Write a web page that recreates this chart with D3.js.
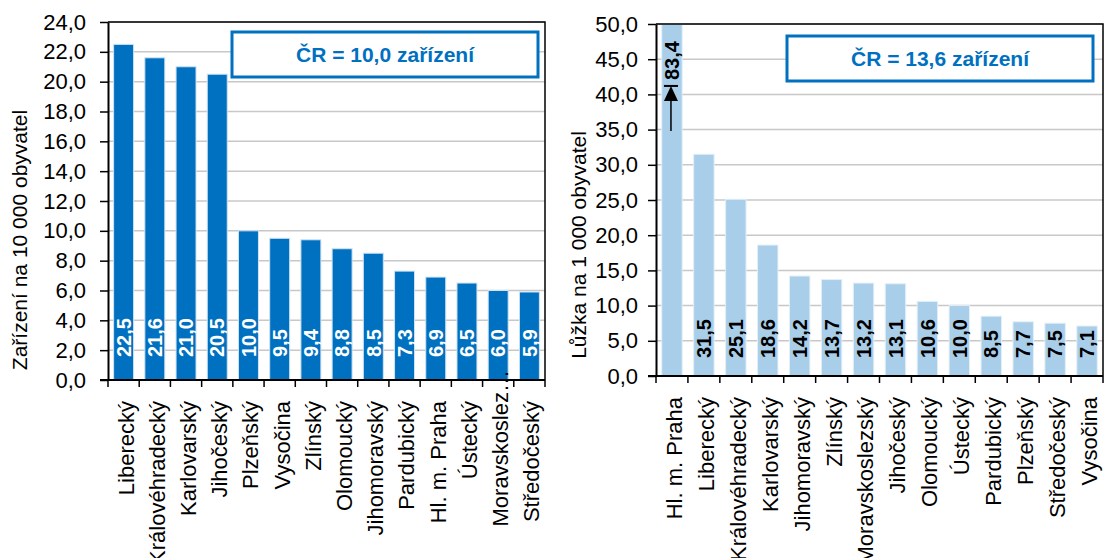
<!DOCTYPE html>
<html>
<head>
<meta charset="utf-8">
<script src="https://cdn.jsdelivr.net/npm/d3@7"></script>
<style>
  body { margin: 0; background: #fff; }
  svg { display: block; font-family: "Liberation Sans", Arial, sans-serif; }
</style>
</head>
<body>
<svg></svg>
<script>
// left chart: zařízení na 10 000 obyvatel
let leftCategories = ['Liberecký', 'Královéhradecký', 'Karlovarský', 'Jihočeský', 'Plzeňský', 'Vysočina', 'Zlínský',
    'Olomoucký', 'Jihomoravský', 'Pardubický', 'Hl. m. Praha', 'Ústecký', 'Moravskoslez…', 'Středočeský'];
let leftValues = [22.5, 21.6, 21.0, 20.5, 10.0, 9.5, 9.4, 8.8, 8.5, 7.3, 6.9, 6.5, 6.0, 5.9];
let leftTicks = [0, 2, 4, 6, 8, 10, 12, 14, 16, 18, 20, 22, 24];

// right chart: lůžka na 1 000 obyvatel
let rightCategories = ['Hl. m. Praha', 'Liberecký', 'Královéhradecký', 'Karlovarský', 'Jihomoravský', 'Zlínský',
    'Moravskoslezský', 'Jihočeský', 'Olomoucký', 'Ústecký', 'Pardubický', 'Plzeňský', 'Středočeský', 'Vysočina'];
let rightValues = [83.4, 31.5, 25.1, 18.6, 14.2, 13.7, 13.2, 13.1, 10.6, 10.0, 8.5, 7.7, 7.5, 7.1];
let rightTicks = [0, 5, 10, 15, 20, 25, 30, 35, 40, 45, 50];

let fmt = v => d3.format('.1f')(v).replace('.', ',');

let svg = d3.select('svg')
    .attr('width', 1105)
    .attr('height', 558);

// draws one bar chart into a group
function drawChart(opts) {
    let g = svg.append('g');
    let x = d3.scaleBand()
        .domain(opts.categories)
        .range([opts.left, opts.right])
        .paddingInner(0.36)
        .paddingOuter(0.18);
    let y = d3.scaleLinear()
        .domain([0, opts.max])
        .range([opts.bottom, opts.top]);

    // gridlines
    g.selectAll('line.grid')
        .data(opts.ticks.slice(1))
        .enter()
        .append('line')
        .attr('x1', opts.left)
        .attr('x2', opts.right)
        .attr('y1', d => y(d))
        .attr('y2', d => y(d))
        .style('stroke', '#c8c8c8')
        .style('stroke-width', 1.5);

    // bars (capped at the axis max)
    g.selectAll('rect.bar')
        .data(opts.values)
        .enter()
        .append('rect')
        .attr('x', (d, i) => x(opts.categories[i]))
        .attr('width', x.bandwidth())
        .attr('y', d => y(Math.min(d, opts.max)))
        .attr('height', d => opts.bottom - y(Math.min(d, opts.max)))
        .style('fill', opts.color)
        .style('stroke', opts.edge)
        .style('stroke-width', 1);

    // value labels inside the bars
    g.selectAll('text.value')
        .data(opts.values)
        .enter()
        .append('text')
        .attr('transform', (d, i) => {
            let cx = x(opts.categories[i]) + x.bandwidth() / 2;
            let yy = d > opts.max ? opts.overflowY : opts.bottom - opts.labelLift;
            return `translate(${cx},${yy}) rotate(-90)`;
        })
        .attr('dy', '0.36em')
        .style('font-size', '20px')
        .style('font-weight', 'bold')
        .style('fill', opts.labelColor)
        .text(d => fmt(d));

    // plot border (top + right)
    g.append('path')
        .attr('d', `M${opts.left},${opts.top}H${opts.right}V${opts.bottom}`)
        .style('fill', 'none')
        .style('stroke', '#000')
        .style('stroke-width', 1.5);

    // y axis
    let yAxis = g.append('g')
        .attr('transform', `translate(${opts.left},0)`)
        .call(d3.axisLeft(y).tickValues(opts.ticks).tickFormat(fmt).tickSize(8).tickPadding(opts.tickPad).tickSizeOuter(0));
    yAxis.select('.domain').style('stroke-width', 2);
    yAxis.selectAll('.tick line').style('stroke-width', 1.5);
    yAxis.selectAll('text').style('font-size', '22px').style('fill', '#000').attr('font-family', null);

    // x axis line and ticks at band boundaries
    g.append('line')
        .attr('x1', opts.left - 8)
        .attr('x2', opts.right)
        .attr('y1', opts.bottom)
        .attr('y2', opts.bottom)
        .style('stroke', '#000')
        .style('stroke-width', 2);
    g.selectAll('line.xtick')
        .data(d3.range(opts.categories.length + 1))
        .enter()
        .append('line')
        .attr('x1', i => opts.left + i * x.step())
        .attr('x2', i => opts.left + i * x.step())
        .attr('y1', opts.bottom)
        .attr('y2', opts.bottom + 7)
        .style('stroke', '#000')
        .style('stroke-width', 1.5);

    // category labels
    g.selectAll('text.cat')
        .data(opts.categories)
        .enter()
        .append('text')
        .attr('transform', d => {
            let cx = x(d) + x.bandwidth() / 2 + 2;
            let yy = d.endsWith('…') ? opts.bottom - 10 : opts.bottom + 21;
            return `translate(${cx},${yy}) rotate(-90)`;
        })
        .attr('dy', '0.36em')
        .attr('text-anchor', 'end')
        .style('font-size', '22px')
        .text(d => d);

    // axis title
    g.append('text')
        .attr('transform', `translate(${opts.titleX},${opts.titleY}) rotate(-90)`)
        .attr('text-anchor', 'middle')
        .style('font-size', '21px')
        .text(opts.title);

    // ČR box
    g.append('rect')
        .attr('x', opts.box[0])
        .attr('y', opts.box[1])
        .attr('width', opts.box[2])
        .attr('height', opts.box[3])
        .style('fill', '#fff')
        .style('stroke', '#0070c0')
        .style('stroke-width', 3);
    g.append('text')
        .attr('x', opts.box[0] + opts.box[2] / 2)
        .attr('y', opts.box[1] + opts.box[3] / 2)
        .attr('dy', '0.36em')
        .attr('text-anchor', 'middle')
        .style('font-size', '21px')
        .style('font-weight', 'bold')
        .style('fill', '#0070c0')
        .text(opts.boxText);

    return {x, y, g};
}

drawChart({
    categories: leftCategories, values: leftValues, ticks: leftTicks, max: 24,
    left: 108, right: 545, top: 22, bottom: 380,
    color: '#0070c0', edge: '#cfe3f3', labelColor: '#fff', tickPad: 14, labelLift: 23,
    title: 'Zařízení na 10 000 obyvatel', titleX: 27, titleY: 240,
    box: [232, 32, 306, 45], boxText: 'ČR = 10,0 zařízení'
});

let right = drawChart({
    categories: rightCategories, values: rightValues, ticks: rightTicks, max: 50,
    left: 656, right: 1103, top: 24, bottom: 376,
    color: '#a8cee9', edge: '#e3eff8', labelColor: '#000', tickPad: 10, labelLift: 18, overflowY: 80,
    title: 'Lůžka na 1 000 obyvatel', titleX: 586, titleY: 245,
    box: [787, 36, 306, 45], boxText: 'ČR = 13,6 zařízení'
});

// arrow on the overflowing Praha bar
let ax = right.x(rightCategories[0]) + right.x.bandwidth() / 2 - 1;
let tipY = right.y(41.2);
right.g.append('line')
    .attr('x1', ax).attr('x2', ax)
    .attr('y1', right.y(34.8)).attr('y2', tipY + 12)
    .style('stroke', '#000').style('stroke-width', 1.5);
right.g.append('path')
    .attr('d', `M${ax - 7},${tipY + 15}L${ax},${tipY}L${ax + 7},${tipY + 15}Z`)
    .style('fill', '#000');
right.g.append('line')
    .attr('x1', ax - 7).attr('x2', ax + 7)
    .attr('y1', tipY).attr('y2', tipY)
    .style('stroke', '#000').style('stroke-width', 2);
</script>
</body>
</html>
